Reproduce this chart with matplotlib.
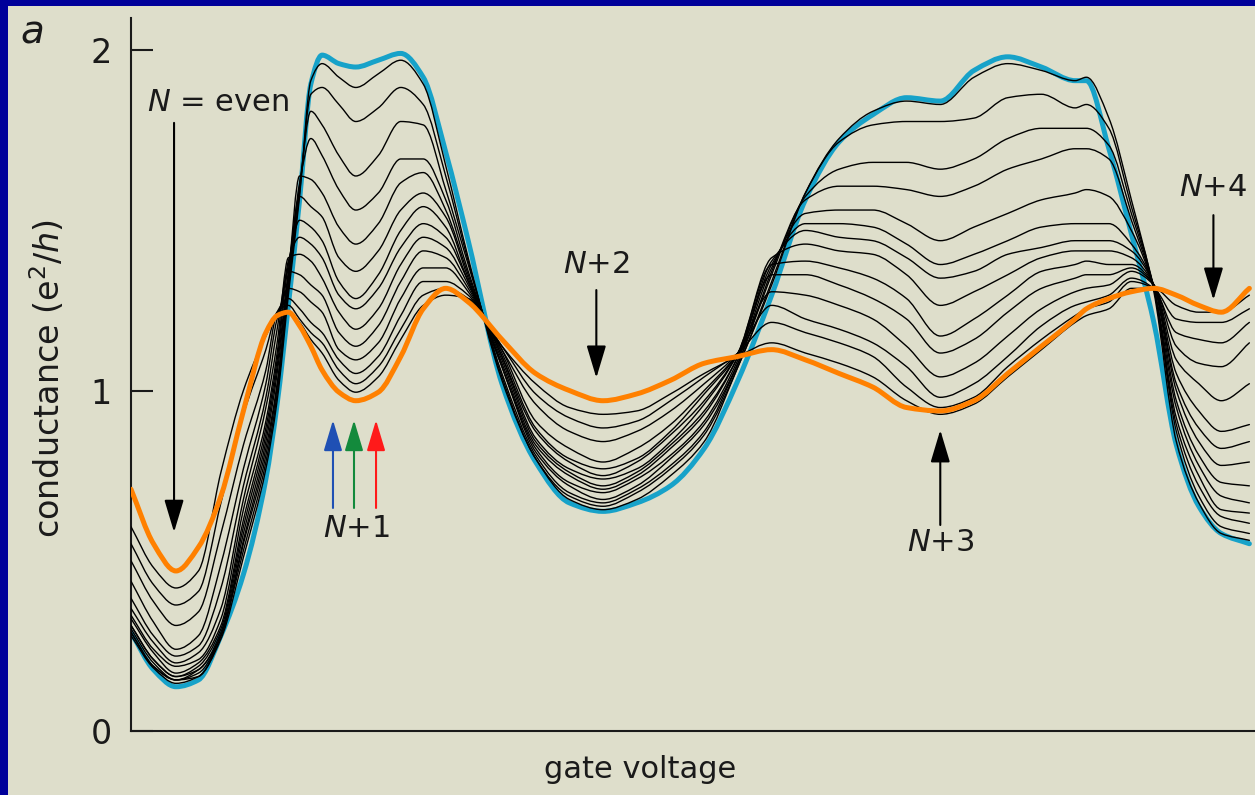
import matplotlib
matplotlib.use("Agg")
import matplotlib.pyplot as plt
from matplotlib.patches import Rectangle, PathPatch
from matplotlib.path import Path

# gate voltage (arb. units) at which every trace is sampled
gate = [0, 2, 4, 6, 8, 10, 12, 13, 14, 15, 16, 17, 18.5, 20, 22, 24, 26, 28, 30,
        33, 36, 39, 42, 45, 48, 51, 54, 57, 60, 63, 66, 69, 72, 75, 78, 81, 84,
        85, 87, 89, 91, 93, 95, 97, 99.5]

# conductance (e^2/h): coldest trace
g_cold = [0.29, 0.18, 0.13, 0.15, 0.28, 0.46, 0.74, 0.96, 1.25, 1.56, 1.90, 1.985,
          1.96, 1.95, 1.97, 1.99, 1.92, 1.70, 1.44, 1.02, 0.79, 0.67, 0.645, 0.67,
          0.72, 0.83, 1.03, 1.28, 1.56, 1.73, 1.81, 1.86, 1.85, 1.94, 1.98, 1.95,
          1.91, 1.91, 1.71, 1.46, 1.20, 0.84, 0.66, 0.58, 0.55]

# conductance (e^2/h): hottest trace
g_hot = [0.71, 0.55, 0.47, 0.54, 0.69, 0.94, 1.17, 1.22, 1.23, 1.19, 1.13, 1.06,
         0.995, 0.97, 0.995, 1.10, 1.24, 1.30, 1.26, 1.15, 1.05, 1.00, 0.97, 0.99,
         1.03, 1.08, 1.10, 1.12, 1.09, 1.05, 1.01, 0.95, 0.94, 0.97, 1.05, 1.13,
         1.21, 1.24, 1.27, 1.29, 1.30, 1.28, 1.25, 1.23, 1.30]

# intermediate temperatures, from cold to hot
g_t01 = [0.28, 0.185, 0.14, 0.16, 0.27, 0.51, 0.77, 0.97, 1.28, 1.57, 1.91, 1.96,
         1.92, 1.89, 1.93, 1.97, 1.90, 1.66, 1.39, 1.03, 0.80, 0.68, 0.65, 0.68,
         0.75, 0.85, 1.07, 1.31, 1.58, 1.74, 1.82, 1.85, 1.84, 1.92, 1.96, 1.94,
         1.91, 1.92, 1.80, 1.56, 1.29, 0.85, 0.67, 0.58, 0.56]
g_t02 = [0.29, 0.19, 0.15, 0.16, 0.28, 0.53, 0.79, 0.99, 1.30, 1.58, 1.87, 1.89,
         1.84, 1.79, 1.83, 1.89, 1.84, 1.63, 1.38, 1.04, 0.80, 0.69, 0.66, 0.70,
         0.77, 0.87, 1.07, 1.32, 1.58, 1.73, 1.78, 1.79, 1.79, 1.80, 1.86, 1.87,
         1.83, 1.84, 1.77, 1.54, 1.30, 0.88, 0.69, 0.60, 0.58]
g_t03 = [0.29, 0.19, 0.15, 0.17, 0.28, 0.55, 0.81, 1.01, 1.31, 1.60, 1.82, 1.78,
         1.69, 1.63, 1.69, 1.79, 1.78, 1.59, 1.37, 1.05, 0.81, 0.70, 0.67, 0.71,
         0.78, 0.88, 1.08, 1.34, 1.57, 1.65, 1.67, 1.67, 1.65, 1.68, 1.74, 1.77,
         1.77, 1.77, 1.72, 1.52, 1.30, 0.90, 0.72, 0.63, 0.61]
g_t04 = [0.30, 0.20, 0.15, 0.18, 0.28, 0.56, 0.83, 1.02, 1.32, 1.61, 1.74, 1.69,
         1.59, 1.53, 1.58, 1.68, 1.68, 1.56, 1.35, 1.07, 0.82, 0.72, 0.68, 0.72,
         0.80, 0.90, 1.08, 1.35, 1.56, 1.60, 1.60, 1.59, 1.57, 1.60, 1.65, 1.68,
         1.71, 1.71, 1.68, 1.50, 1.30, 0.92, 0.75, 0.65, 0.64]
g_t05 = [0.31, 0.21, 0.16, 0.18, 0.29, 0.58, 0.85, 1.05, 1.34, 1.63, 1.62, 1.58,
         1.48, 1.43, 1.49, 1.61, 1.64, 1.53, 1.34, 1.07, 0.83, 0.73, 0.70, 0.74,
         0.81, 0.91, 1.09, 1.36, 1.52, 1.53, 1.53, 1.49, 1.44, 1.48, 1.52, 1.56,
         1.58, 1.59, 1.57, 1.47, 1.30, 0.95, 0.78, 0.69, 0.67]
g_t06 = [0.31, 0.21, 0.16, 0.19, 0.30, 0.60, 0.87, 1.07, 1.35, 1.57, 1.54, 1.51,
         1.39, 1.35, 1.41, 1.53, 1.58, 1.51, 1.33, 1.08, 0.84, 0.75, 0.71, 0.75,
         0.83, 0.93, 1.10, 1.37, 1.49, 1.49, 1.48, 1.43, 1.37, 1.40, 1.44, 1.48,
         1.49, 1.49, 1.49, 1.43, 1.31, 0.97, 0.81, 0.73, 0.72]
g_t07 = [0.33, 0.23, 0.17, 0.20, 0.31, 0.62, 0.89, 1.09, 1.37, 1.50, 1.48, 1.44,
         1.32, 1.27, 1.34, 1.47, 1.54, 1.48, 1.32, 1.09, 0.85, 0.76, 0.72, 0.76,
         0.84, 0.94, 1.10, 1.38, 1.47, 1.45, 1.44, 1.39, 1.33, 1.35, 1.40, 1.42,
         1.44, 1.44, 1.44, 1.41, 1.31, 1.00, 0.85, 0.78, 0.79]
g_t08 = [0.34, 0.24, 0.19, 0.21, 0.33, 0.65, 0.91, 1.11, 1.38, 1.45, 1.43, 1.39,
         1.28, 1.24, 1.30, 1.42, 1.49, 1.45, 1.32, 1.10, 0.86, 0.77, 0.74, 0.77,
         0.85, 0.96, 1.11, 1.39, 1.43, 1.41, 1.40, 1.34, 1.25, 1.29, 1.34, 1.39,
         1.41, 1.41, 1.41, 1.39, 1.31, 1.02, 0.89, 0.83, 0.85]
g_t09 = [0.36, 0.26, 0.20, 0.23, 0.36, 0.68, 0.95, 1.14, 1.39, 1.40, 1.38, 1.33,
         1.23, 1.18, 1.24, 1.37, 1.45, 1.42, 1.31, 1.10, 0.88, 0.79, 0.75, 0.79,
         0.87, 0.97, 1.11, 1.37, 1.38, 1.36, 1.33, 1.27, 1.16, 1.21, 1.28, 1.35,
         1.37, 1.38, 1.37, 1.37, 1.31, 1.05, 0.94, 0.88, 0.90]
g_t10 = [0.39, 0.28, 0.22, 0.25, 0.42, 0.72, 0.98, 1.18, 1.35, 1.34, 1.31, 1.28,
         1.17, 1.13, 1.19, 1.32, 1.41, 1.39, 1.30, 1.11, 0.89, 0.80, 0.77, 0.80,
         0.88, 0.99, 1.11, 1.34, 1.34, 1.31, 1.27, 1.21, 1.11, 1.15, 1.23, 1.30,
         1.33, 1.34, 1.34, 1.36, 1.31, 1.09, 1.02, 0.97, 1.02]
g_t11 = [0.44, 0.32, 0.24, 0.28, 0.49, 0.77, 1.02, 1.21, 1.30, 1.29, 1.26, 1.23,
         1.12, 1.09, 1.14, 1.27, 1.36, 1.36, 1.29, 1.12, 0.91, 0.83, 0.79, 0.83,
         0.90, 1.00, 1.11, 1.29, 1.28, 1.25, 1.21, 1.13, 1.04, 1.08, 1.16, 1.24,
         1.29, 1.30, 1.31, 1.35, 1.31, 1.13, 1.08, 1.07, 1.14]
g_t12 = [0.50, 0.38, 0.31, 0.35, 0.58, 0.84, 1.06, 1.23, 1.27, 1.24, 1.20, 1.17,
         1.09, 1.05, 1.10, 1.22, 1.32, 1.32, 1.28, 1.12, 0.96, 0.88, 0.85, 0.88,
         0.94, 1.02, 1.11, 1.25, 1.21, 1.18, 1.14, 1.07, 0.98, 1.02, 1.10, 1.19,
         1.25, 1.26, 1.28, 1.33, 1.30, 1.17, 1.15, 1.14, 1.20]
g_t13 = [0.55, 0.43, 0.37, 0.41, 0.67, 0.93, 1.12, 1.23, 1.25, 1.21, 1.17, 1.14,
         1.06, 1.02, 1.07, 1.18, 1.28, 1.30, 1.27, 1.13, 0.99, 0.92, 0.89, 0.91,
         0.97, 1.04, 1.11, 1.20, 1.17, 1.14, 1.10, 1.01, 0.95, 0.98, 1.07, 1.15,
         1.22, 1.24, 1.26, 1.32, 1.30, 1.21, 1.20, 1.20, 1.24]
g_t14 = [0.60, 0.48, 0.42, 0.47, 0.76, 1.00, 1.16, 1.22, 1.23, 1.20, 1.15, 1.11,
         1.03, 0.995, 1.04, 1.15, 1.25, 1.28, 1.27, 1.13, 1.02, 0.95, 0.93, 0.94,
         0.99, 1.05, 1.10, 1.14, 1.11, 1.08, 1.04, 0.97, 0.93, 0.96, 1.04, 1.12,
         1.20, 1.22, 1.24, 1.30, 1.30, 1.25, 1.23, 1.23, 1.28]

middle = [g_t01, g_t02, g_t03, g_t04, g_t05, g_t06, g_t07,
          g_t08, g_t09, g_t10, g_t11, g_t12, g_t13, g_t14]

y_ticks = [0, 1, 2]

# labelled valleys: (label, x, text y, arrow tail y, arrow tip y)
markers = [
    (r"$N$ = even", 3.83, 1.847, 1.786, 0.584),
    (r"$N$+2", 41.4, 1.369, 1.295, 1.037),
    (r"$N$+3", 72.0, 0.555, 0.605, 0.884),
    (r"$N$+4", 96.3, 1.595, 1.515, 1.266),
]
nplus1_x = [17.97, 19.84, 21.80]
nplus1_colors = ["#1f50b4", "#138a3c", "#ff1a1a"]

BG = "#dedecb"
FRAME = "#00009a"
COLD = "#17a2c9"
HOT = "#ff8000"
INK = "#1a1a1a"


def trace_path(x, y):
    """Shape-preserving (monotone) cubic through the samples, as Bezier segments."""
    n = len(x)
    h = [x[i + 1] - x[i] for i in range(n - 1)]
    d = [(y[i + 1] - y[i]) / h[i] for i in range(n - 1)]
    m = [0.0] * n
    m[0], m[-1] = d[0], d[-1]
    for i in range(1, n - 1):
        if d[i - 1] * d[i] <= 0:
            m[i] = 0.0
        else:
            w1 = 2 * h[i] + h[i - 1]
            w2 = h[i] + 2 * h[i - 1]
            m[i] = (w1 + w2) / (w1 / d[i - 1] + w2 / d[i])
    verts = [(x[0], y[0])]
    codes = [Path.MOVETO]
    for i in range(n - 1):
        verts += [(x[i] + h[i] / 3, y[i] + m[i] * h[i] / 3),
                  (x[i + 1] - h[i] / 3, y[i + 1] - m[i + 1] * h[i] / 3),
                  (x[i + 1], y[i + 1])]
        codes += [Path.CURVE4] * 3
    return Path(verts, codes)


def draw_trace(ax, x, y, color, lw, z):
    ax.add_patch(PathPatch(trace_path(x, y), facecolor="none", edgecolor=color,
                           lw=lw, joinstyle="round", capstyle="round", zorder=z))


fig = plt.figure(figsize=(12.55, 7.95), dpi=100, facecolor=BG)
fig.patches.append(Rectangle((0, 0), 8 / 1255, 1, transform=fig.transFigure,
                             facecolor=FRAME, edgecolor="none", zorder=0))
fig.patches.append(Rectangle((0, 1 - 6 / 795), 1, 6 / 795, transform=fig.transFigure,
                             facecolor=FRAME, edgecolor="none", zorder=0))

ax = fig.add_axes([131 / 1255, 64 / 795, 1124 / 1255, 713 / 795])
ax.set_facecolor(BG)
ax.set_xlim(0, 100)
ax.set_ylim(0, 2.094)

draw_trace(ax, gate, g_cold, COLD, 3.6, 2)
for tr in middle:
    draw_trace(ax, gate, tr, "black", 1.0, 3)
draw_trace(ax, gate, g_hot, HOT, 3.6, 4)

for s in ("top", "right"):
    ax.spines[s].set_visible(False)
for s in ("left", "bottom"):
    ax.spines[s].set_linewidth(1.5)
    ax.spines[s].set_color(INK)
ax.set_xticks([])
ax.set_yticks(y_ticks)
ax.set_yticklabels([str(t) for t in y_ticks])
ax.tick_params(axis="y", direction="in", length=16, width=1.5, color=INK,
               labelsize=24, pad=14, labelcolor=INK)

head = "-|>,head_length=1.0,head_width=0.3"
for label, x, ty, y0, y1 in markers:
    ax.annotate("", xy=(x, y1), xytext=(x, y0),
                arrowprops=dict(arrowstyle=head, color="black", lw=1.5,
                                mutation_scale=20, shrinkA=0, shrinkB=0))
    dx = 3.9 if label.endswith("even") else 0
    ax.text(x + dx, ty, label, ha="center", va="center", fontsize=22, color=INK)

for x, c in zip(nplus1_x, nplus1_colors):
    ax.annotate("", xy=(x, 0.913), xytext=(x, 0.655),
                arrowprops=dict(arrowstyle=head, color=c, lw=1.5,
                                mutation_scale=19, shrinkA=0, shrinkB=0))
ax.text(nplus1_x[1] + 0.2, 0.596, r"$N$+1", ha="center", va="center",
        fontsize=22, color=INK)

fig.text(48 / 1255, 1 - 378 / 795, r"conductance (e$^2$/$h$)", rotation=90,
         ha="center", va="center", fontsize=24, color=INK)
fig.text(640 / 1255, 1 - 770 / 795, "gate voltage", ha="center", va="center",
         fontsize=22, color=INK)
fig.text(20 / 1255, 1 - 33 / 795, "a", ha="left", va="center", fontsize=28,
         style="italic", color=INK)

fig.savefig("out.png", dpi=100, facecolor=BG)
